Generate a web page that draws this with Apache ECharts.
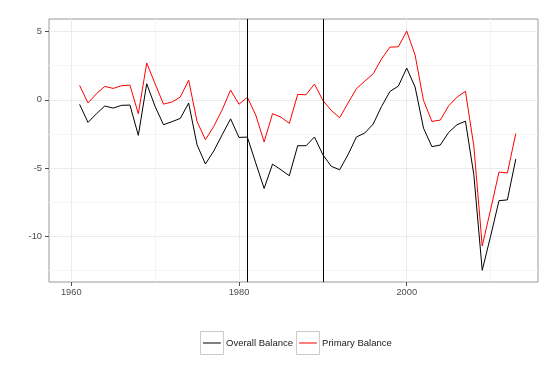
<!DOCTYPE html>
<html>
<head>
<meta charset="utf-8">
<script src="https://cdn.jsdelivr.net/npm/echarts@6/dist/echarts.min.js"></script>
<style>
html,body{margin:0;padding:0;background:#fff;}
#chart{width:558px;height:381px;}
</style>
</head>
<body>
<div id="chart"></div>
<script>
const years = [];
for (let y = 1961; y <= 2013; y++) years.push(y);

const overallBalance = [
  -0.34, -1.66, -1.03, -0.46, -0.61, -0.41, -0.39, -2.61, 1.17, -0.49,
  -1.83, -1.61, -1.37, -0.24, -3.30, -4.71, -3.75, -2.56, -1.40, -2.76,
  -2.74, -4.64, -6.50, -4.72, -5.13, -5.57, -3.37, -3.37, -2.73, -4.03,
  -4.88, -5.13, -4.03, -2.73, -2.44, -1.78, -0.49, 0.61, 1.00, 2.32,
  0.93, -2.08, -3.44, -3.32, -2.39, -1.83, -1.57, -5.50, -12.50, -10.00,
  -7.40, -7.34, -4.35
];
const primaryBalance = [
  1.05, -0.24, 0.44, 0.98, 0.83, 1.03, 1.07, -1.03, 2.69, 1.17,
  -0.32, -0.17, 0.19, 1.44, -1.59, -2.93, -1.95, -0.73, 0.71, -0.33,
  0.18, -1.12, -3.09, -1.02, -1.27, -1.73, 0.39, 0.37, 1.15, -0.05,
  -0.78, -1.32, -0.24, 0.81, 1.37, 1.90, 3.00, 3.86, 3.88, 5.03,
  3.27, -0.05, -1.59, -1.49, -0.44, 0.19, 0.62, -3.40, -10.72, -8.06,
  -5.30, -5.37, -2.48
];
const seriesNames = ['Overall Balance', 'Primary Balance'];
const eventYears = [1981, 1990];
const xTicks = [1960, 1980, 2000];
const xMinorGrid = [1970, 1990, 2010];
const yTicks = [-10, -5, 0, 5];
const yMinorGrid = [-12.5, -7.5, -2.5, 2.5];

const pairs = (vals) => years.map((y, i) => [y, vals[i]]);

const chart = echarts.init(document.getElementById('chart'), null, {renderer: 'canvas'});
const font = '"Liberation Sans", Arial, Helvetica, sans-serif';

const minorStyle = {color: '#f4f4f4', width: 1, type: 'solid'};
const minorLines = xMinorGrid.map(v => ({xAxis: v, lineStyle: minorStyle}))
  .concat(yMinorGrid.map(v => ({yAxis: v, lineStyle: minorStyle})));

const option = {
  backgroundColor: '#ffffff',
  animation: false,
  textStyle: {fontFamily: font},
  grid: {
    left: 49, right: 20, top: 19, bottom: 99,
    show: true, borderColor: '#9a9a9a', borderWidth: 1, backgroundColor: 'transparent'
  },
  xAxis: {
    type: 'value', min: 1957.35, max: 2015.65,
    axisLine: {show: false, onZero: false},
    axisTick: {show: true, length: 4, customValues: xTicks, lineStyle: {color: '#4d4d4d', width: 1}},
    axisLabel: {customValues: xTicks, color: '#4d4d4d', fontSize: 9.3, margin: 6, fontFamily: font,
      formatter: v => String(v)},
    splitLine: {show: true, lineStyle: {color: '#ebebeb', width: 1}}
  },
  yAxis: {
    type: 'value', min: -13.36, max: 5.92,
    axisLine: {show: false, onZero: false},
    axisTick: {show: true, length: 4, customValues: yTicks, lineStyle: {color: '#4d4d4d', width: 1}},
    axisLabel: {customValues: yTicks, color: '#4d4d4d', fontSize: 9.3, margin: 7, fontFamily: font,
      formatter: v => String(v)},
    splitLine: {show: true, lineStyle: {color: '#ebebeb', width: 1}}
  },
  legend: {
    data: seriesNames,
    left: 200, top: 331,
    padding: 0,
    orient: 'horizontal',
    itemWidth: 21, itemHeight: 24, itemGap: 3,
    icon: 'path://M0,0L0.01,0L0,0.01Z M3,11.4H20.8V12.6H3Z M21,24L20.99,24L21,23.99Z',
    textStyle: {color: '#1a1a1a', fontSize: 9.5, fontFamily: font}
  },
  graphic: [
    {type: 'rect', shape: {x: 200.5, y: 331.5, width: 23, height: 23}, style: {fill: 'none', stroke: '#cccccc', lineWidth: 1}, z: 0, silent: true},
    {type: 'rect', shape: {x: 296.5, y: 331.5, width: 23, height: 23}, style: {fill: 'none', stroke: '#cccccc', lineWidth: 1}, z: 0, silent: true}
  ],
  series: [
    {
      name: 'minor-grid', type: 'line', data: [], silent: true, z: 0,
      markLine: {silent: true, z: 0, symbol: 'none', label: {show: false}, animation: false, data: minorLines}
    },
    {
      name: seriesNames[0], type: 'line', data: pairs(overallBalance),
      showSymbol: false, symbol: 'none', z: 3,
      lineStyle: {color: '#000000', width: 1}, itemStyle: {color: '#000000'}
    },
    {
      name: seriesNames[1], type: 'line', data: pairs(primaryBalance),
      showSymbol: false, symbol: 'none', z: 3,
      lineStyle: {color: '#ff0000', width: 1}, itemStyle: {color: '#ff0000'},
      markLine: {
        silent: true, z: 5, symbol: 'none', label: {show: false}, animation: false,
        lineStyle: {color: '#000000', width: 1, type: 'solid'},
        data: eventYears.map(v => ({xAxis: v}))
      }
    }
  ]
};
chart.setOption(option);
</script>
</body>
</html>
